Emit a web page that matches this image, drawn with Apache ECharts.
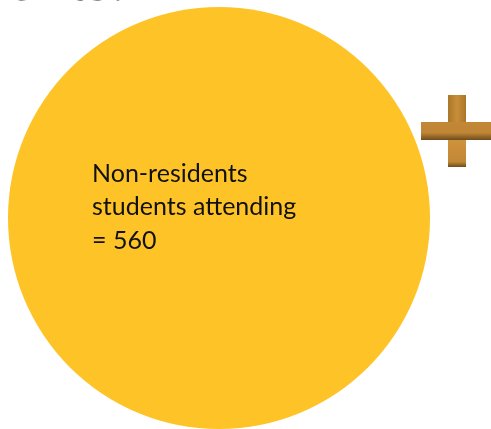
<!DOCTYPE html>
<html>
<head>
<meta charset="utf-8">
<script src="https://cdn.jsdelivr.net/npm/echarts@6/dist/echarts.min.js"></script>
<style>
  html, body { margin: 0; padding: 0; background: #ffffff; }
  #chart { width: 491px; height: 429px; }
</style>
</head>
<body>
<div id="chart"></div>
<script>
// Group shown as a single circle, and its count
const groupNames = ['Non-residents students attending'];
const groupValues = [560];
const headingText = 'Students:';

const chart = echarts.init(document.getElementById('chart'), null, { renderer: 'canvas' });

const labelLines = ['Non-residents', 'students attending', '= ' + groupValues[0]];

chart.setOption({
  animation: false,
  backgroundColor: '#ffffff',
  series: [{
    type: 'pie',
    center: [219, 218],
    radius: [0, 211],
    silent: true,
    z: 1,
    label: { show: false },
    labelLine: { show: false },
    itemStyle: { color: '#FEC326' },
    data: groupNames.map((n, i) => ({ name: n, value: groupValues[i] }))
  }],
  graphic: {
    elements: [
      {
        type: 'text',
        z: 100,
        x: 125,
        y: 11,
        style: {
          text: headingText,
          font: '53px "Open Sans", sans-serif',
          fill: '#000000',
          align: 'right',
          verticalAlign: 'bottom'
        }
      },
      {
        type: 'text',
        z: 100,
        x: 92,
        y: 157,
        style: {
          text: labelLines.join('\n'),
          font: '25px Lato, sans-serif',
          lineHeight: 33.5,
          fill: '#111111'
        }
      },
      {
        // plus sign
        type: 'group',
        z: 100,
        children: [
          {
            type: 'rect',
            z: 100,
            shape: { x: 448, y: 95, width: 18, height: 72 },
            style: {
              fill: new echarts.graphic.LinearGradient(0, 0, 1, 0, [
                { offset: 0, color: '#a9772a' },
                { offset: 0.5, color: '#c98d38' },
                { offset: 1, color: '#a9772a' }
              ])
            }
          },
          {
            type: 'rect',
            z: 101,
            shape: { x: 421, y: 122, width: 70, height: 18 },
            style: {
              fill: new echarts.graphic.LinearGradient(0, 0, 0, 1, [
                { offset: 0, color: '#c38836' },
                { offset: 0.6, color: '#c08535' },
                { offset: 1, color: '#6e4c1c' }
              ])
            }
          },
          {
            type: 'rect',
            z: 102,
            shape: { x: 448, y: 140, width: 18, height: 27 },
            style: {
              fill: new echarts.graphic.LinearGradient(0, 0, 0, 1, [
                { offset: 0, color: '#cf933c' },
                { offset: 0.8, color: '#c38836' },
                { offset: 1, color: '#6e4c1c' }
              ])
            }
          }
        ]
      }
    ]
  }
});
</script>
</body>
</html>
